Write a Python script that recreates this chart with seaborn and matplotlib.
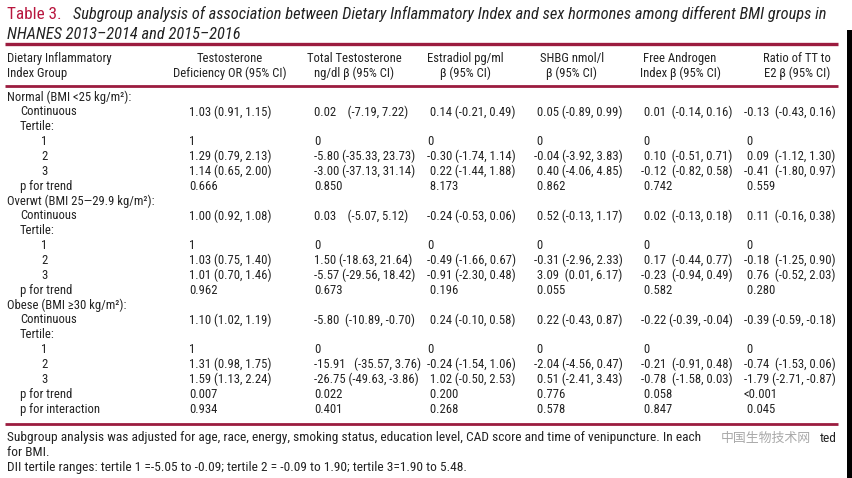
import matplotlib
matplotlib.use("Agg")
import matplotlib.pyplot as plt
from matplotlib import font_manager
from matplotlib.patches import Rectangle
import seaborn as sns

# table content
headers = [
    "Dietary Inflammatory\nIndex Group",
    "Testosterone\nDeficiency OR (95% CI)",
    "Total Testosterone\nng/dl \u03b2 (95% CI)",
    "Estradiol pg/ml\n\u03b2 (95% CI)",
    "SHBG nmol/l\n\u03b2 (95% CI)",
    "Free Androgen\nIndex \u03b2 (95% CI)",
    "Ratio of TT to\nE2 \u03b2 (95% CI)",
]

row_labels = [
    "Normal (BMI <25 kg/m\u00b2):", "Continuous", "Tertile:", "1", "2", "3", "p for trend",
    "Overwt (BMI 25\u201429.9 kg/m\u00b2):", "Continuous", "Tertile:", "1", "2", "3", "p for trend",
    "Obese (BMI \u226530 kg/m\u00b2):", "Continuous", "Tertile:", "1", "2", "3", "p for trend",
    "p for interaction",
]
row_indent = [0, 1, 1, 2, 2, 2, 1,
              0, 1, 1, 2, 2, 2, 1,
              0, 1, 1, 2, 2, 2, 1, 1]

td_or = ["", "1.03 (0.91, 1.15)", "", "1", "1.29 (0.79, 2.13)", "1.14 (0.65, 2.00)", "0.666",
         "", "1.00 (0.92, 1.08)", "", "1", "1.03 (0.75, 1.40)", "1.01 (0.70, 1.46)", "0.962",
         "", "1.10 (1.02, 1.19)", "", "1", "1.31 (0.98, 1.75)", "1.59 (1.13, 2.24)", "0.007",
         "0.934"]
tt_beta = ["", "0.02    (-7.19, 7.22)", "", "0", "-5.80 (-35.33, 23.73)", "-3.00 (-37.13, 31.14)", "0.850",
           "", "0.03    (-5.07, 5.12)", "", "0", "1.50 (-18.63, 21.64)", "-5.57 (-29.56, 18.42)", "0.673",
           "", "-5.80  (-10.89, -0.70)", "", "0", "-15.91   (-35.57, 3.76)", "-26.75 (-49.63, -3.86)", "0.022",
           "0.401"]
e2_beta = ["", " 0.14 (-0.21, 0.49)", "", "0", "-0.30 (-1.74, 1.14)", " 0.22 (-1.44, 1.88)", " 8.173",
           "", "-0.24 (-0.53, 0.06)", "", "0", "-0.49 (-1.66, 0.67)", "-0.91 (-2.30, 0.48)", " 0.196",
           "", " 0.24 (-0.10, 0.58)", "", "0", "-0.24 (-1.54, 1.06)", " 1.02 (-0.50, 2.53)", " 0.200",
           " 0.268"]
shbg_beta = ["", " 0.05 (-0.89, 0.99)", "", " 0", "-0.04 (-3.92, 3.83)", " 0.40 (-4.06, 4.85)", " 0.862",
             "", " 0.52 (-0.13, 1.17)", "", " 0", "-0.31 (-2.96, 2.33)", " 3.09  (0.01, 6.17)", " 0.055",
             "", " 0.22 (-0.43, 0.87)", "", " 0", "-2.04 (-4.56, 0.47)", " 0.51 (-2.41, 3.43)", " 0.776",
             " 0.578"]
fai_beta = ["", " 0.01  (-0.14, 0.16)", "", " 0", " 0.10  (-0.51, 0.71)", "-0.12  (-0.82, 0.58)", " 0.742",
            "", " 0.02  (-0.13, 0.18)", "", " 0", " 0.17  (-0.44, 0.77)", "-0.23  (-0.94, 0.49)", " 0.582",
            "", "-0.22 (-0.39, -0.04)", "", " 0", "-0.21  (-0.91, 0.48)", "-0.78  (-1.58, 0.03)", " 0.058",
            " 0.847"]
ratio_beta = ["", "-0.13  (-0.43, 0.16)", "", " 0", " 0.09  (-1.12, 1.30)", "-0.41  (-1.80, 0.97)", " 0.559",
              "", " 0.11  (-0.16, 0.38)", "", " 0", "-0.18  (-1.25, 0.90)", " 0.76  (-0.52, 2.03)", " 0.280",
              "", "-0.39 (-0.59, -0.18)", "", " 0", "-0.74  (-1.53, 0.06)", "-1.79 (-2.71, -0.87)", "<0.001",
              " 0.045"]

title_tag = "Table 3."
title_line1 = ("Subgroup analysis of association between Dietary Inflammatory Index and sex "
               "hormones among different BMI groups in")
title_line2 = "NHANES 2013\u20132014 and 2015\u20132016"
footnotes = [
    "Subgroup analysis was adjusted for age, race, energy, smoking status, education level, "
    "CAD score and time of venipuncture. In each",
    "for BMI.",
    "DII tertile ranges: tertile 1 =-5.05 to -0.09; tertile 2 = -0.09 to 1.90; tertile 3=1.90 to 5.48.",
]
watermark = "\u4e2d\u56fd\u751f\u7269\u6280\u672f\u7f51"

# pick a narrow face if there is one
sns.set_theme(style="white")
fonts = font_manager.fontManager.ttflist
names = {f.name for f in fonts}
body_font = "Liberation Sans"
for cand in ["Liberation Sans Narrow", "Roboto Condensed", "Open Sans Condensed", "DejaVu Sans Condensed"]:
    if cand in names:
        body_font = cand
        break
else:
    if any(f.name == "DejaVu Sans" and "condensed" in str(f.stretch) for f in fonts):
        body_font = "DejaVu Sans"
        plt.rcParams["font.stretch"] = "condensed"
plt.rcParams["font.family"] = [body_font, "DejaVu Sans"]

ink = "#222222"
rule_color = "#9b1c3f"
tag_color = "#b8163e"

fig = plt.figure(figsize=(8.52, 4.78), dpi=100)
ax = fig.add_axes([0, 0, 1, 1])
ax.set_xlim(0, 852)
ax.set_ylim(478, 0)
ax.axis("off")
renderer = fig.canvas.get_renderer()


def text_width(s, size, **kw):
    t = ax.text(0, 0, s, fontsize=size, **kw)
    w = t.get_window_extent(renderer).width
    t.remove()
    return w


def fit_size(s, target, **kw):
    # font size that gives the string the width it has in the reference
    return 10 * target / text_width(s, 10, **kw)


body_size = fit_size("1.03 (0.91, 1.15)", 82)
title_size = fit_size(title_line1, 752, style="italic")
foot_size = fit_size(footnotes[0], 690)

# title
ax.text(7, 14, title_tag, color=tag_color, fontsize=title_size * 1.04, va="center")
ax.text(73, 14, title_line1, color=ink, fontsize=title_size, style="italic", va="center")
ax.text(7, 34, title_line2, color=ink, fontsize=title_size, style="italic", va="center")

# rules
for y, lw in [(44, 2.4), (86, 2.0), (424, 2.0)]:
    ax.plot([5, 838], [y, y], color=rule_color, lw=lw, solid_capstyle="butt")

# header
header_x = [7, 230, 354, 465, 572, 680, 797]
for i, (hx, h) in enumerate(zip(header_x, headers)):
    for j, line in enumerate(h.split("\n")):
        ax.text(hx, 58 + 15 * j, line, color=ink, fontsize=body_size, va="center",
                ha="left" if i == 0 else "center")

# body
row_y0, row_h = 97, 14.86
indent_x = [7, 20, 41]
value_cols = [td_or, tt_beta, e2_beta, shbg_beta, fai_beta, ratio_beta]
value_x = [189, 314, 427, 534, 641, 744]
for r, (label, ind) in enumerate(zip(row_labels, row_indent)):
    y = row_y0 + r * row_h
    ax.text(indent_x[ind], y, label, color=ink, fontsize=body_size, va="center")
    for vx, col in zip(value_x, value_cols):
        if col[r]:
            ax.text(vx, y, col[r], color=ink, fontsize=body_size, va="center")

# footnotes
for k, line in enumerate(footnotes):
    ax.text(7, 438 + 14.5 * k, line, color=ink, fontsize=foot_size, va="center")
ax.text(820, 438, "ted", color=ink, fontsize=foot_size, va="center")
ax.text(721, 438, watermark, color="#9a9a9a", fontsize=9.3, va="center", alpha=0.85,
        family=["Noto Sans CJK SC", "DejaVu Sans"])
ax.add_patch(Rectangle((847, 30), 5, 448, color="black", lw=0))

fig.savefig("out.png", dpi=100)
